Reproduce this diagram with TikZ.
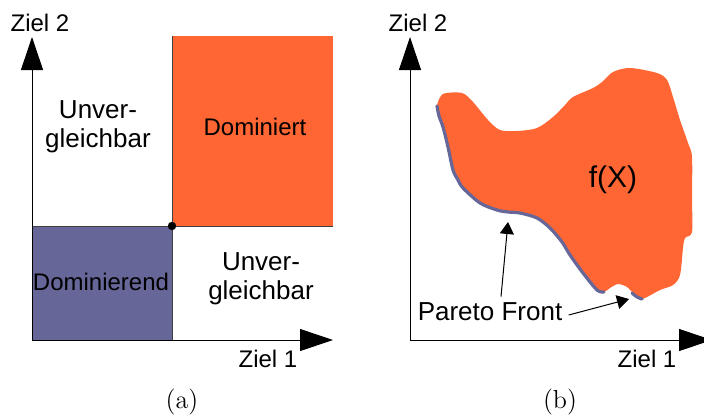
\documentclass[tikz,border=0pt]{standalone}
\usepackage{fontspec}
\newfontfamily\arial{Liberation Sans}
\usetikzlibrary{arrows.meta,positioning,calc}
\definecolor{domorange}{RGB}{255,102,51}
\definecolor{domblue}{RGB}{102,102,153}

\begin{document}
\begin{tikzpicture}[
  x=0.5pt, y=-0.5pt,
  font=\fontsize{12}{14.5}\arial,
  axis/.style={-{Triangle[length=16.5pt, width=11pt]}, line width=0.5pt},
  region/.style={draw=black!75, line width=0.5pt},
  lbl/.style={align=center, inner sep=0pt},
  big/.style={lbl, font=\fontsize{13}{14.5}\arial},
  caption/.style={inner sep=0pt, font=\fontsize{13}{15}\rmfamily},
  arr/.style={-{Triangle[length=6pt, width=7pt]}, line width=0.5pt},
  front/.style={draw=domblue, line width=1.6pt, line cap=round}
]
  \useasboundingbox (0,0) rectangle (704,418);

  % (a) dominance regions
  \fill[domorange] (172,36) rectangle (333,226);
  \draw[region] (172,36) -- (172,226) -- (333,226);
  \filldraw[region, fill=domblue] (32,226) rectangle (172,340);
  \node[circle, fill, inner sep=0pt, minimum size=4.2pt] (pt) at (172,226) {};

  \coordinate (oa) at (32,340);
  \coordinate (ya) at (32,37);
  \coordinate (xa) at (333,340);
  \draw[axis] (oa) -- (ya);
  \draw[axis] (oa) -- (xa);

  \node[lbl] (za2) at (40,23) {Ziel 2};
  \node[lbl] (za1) at (268,359) {Ziel 1};
  \node[big] (ul) at (98,127) {Unver-\\gleichbar};
  \node[lbl] (dom) at (255,127) {Dominiert};
  \node[lbl] (dnd) at (101,282) {Dominierend};
  \node[big] (ur) at (261,279) {Unver-\\gleichbar};
  \node[caption] (capa) at (182,402) {(a)};

  % (b) objective space with front
  \fill[domorange] plot[smooth cycle, tension=0.5] coordinates {
    (437,105) (443,94) (462,93) (473,102) (488,120) (500,130) (517,131)
    (537,128) (553,117) (565,105) (573,97) (593,88) (602,82) (613,72)
    (630,68) (657,73) (667,80) (673,97) (680,120) (688,143) (692,157)
    (692,200) (692,232) (685,238) (683,248) (680,275) (673,285) (660,290)
    (642,299) (634,294) (627,287) (618,284) (610,288) (604,292) (597,290)
    (583,273) (570,255) (562,242) (550,228) (537,218) (520,213) (508,212)
    (497,210) (480,203) (463,188) (458,180) (453,170) (448,147) (443,127)
    (437,110)};
  \draw[front] plot[smooth, tension=0.5] coordinates {
    (437,106) (439,116) (443,127) (448,147) (453,170) (458,180) (463,188)
    (480,203) (497,210) (508,212) (520,213) (537,218) (550,228) (562,242)
    (570,255) (583,273) (597,290) (604,292)};
  \draw[front] plot[smooth, tension=0.5] coordinates {
    (632,293) (637,297) (642,299)};

  \coordinate (ob) at (410,340);
  \coordinate (yb) at (410,37);
  \coordinate (xb) at (712,340);
  \draw[axis] (ob) -- (yb);
  \draw[axis] (ob) -- (xb);

  \node[lbl] (zb2) at (418,23) {Ziel 2};
  \node[lbl] (zb1) at (647,359) {Ziel 1};
  \node[lbl, font=\fontsize{15}{17}\arial] (fx) at (613,180) {f(X)};
  \node[big] (pf) at (490,312) {Pareto Front};
  \coordinate (pfa) at (508,222);
  \coordinate (pfb) at (629,299);
  \draw[arr] ([shift={(11,-6)}]pf.north) -- (pfa);
  \draw[arr] ([shift={(6,3)}]pf.east) -- (pfb);
  \node[caption] (capb) at (560,402) {(b)};
\end{tikzpicture}
\end{document}
